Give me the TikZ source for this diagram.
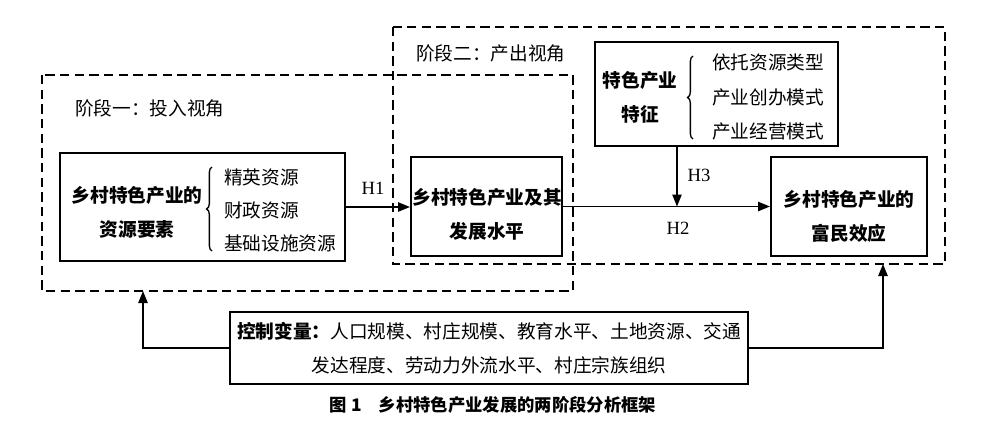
\documentclass[tikz,border=0pt]{standalone}
\usepackage{fontspec}
\setmainfont{Liberation Serif}
\newfontfamily\cjk{Noto Sans CJK SC}
\usetikzlibrary{arrows.meta,decorations.pathreplacing}
\begin{document}
\begin{tikzpicture}
[x=0.75pt,y=-0.75pt,
  boxdecorate/.style={draw,line width=1.5pt,inner sep=0pt},%
  stagedecorate/.style={line width=1.4pt,dash pattern=on 7pt off 4pt},%
  titledecorate/.style={inner sep=0pt,align=center,
    font=\cjk\bfseries\fontsize{14pt}{25.5pt}\selectfont},%
  itemdecorate/.style={inner sep=0pt,anchor=west,
    font=\cjk\fontsize{14pt}{16pt}\selectfont},%
  bracedecorate/.style={decorate,decoration={brace,amplitude=4pt},line width=1pt},%
  linedecorate/.style={-{Triangle[length=9pt,width=7pt]},line width=1.1pt},%
  hlabel/.style={inner sep=0pt,font=\fontsize{14pt}{16pt}\selectfont}]
\useasboundingbox (0,0) rectangle (1000,447);
%% stages
\draw[stagedecorate] (42,75) rectangle (573,291);
\draw[stagedecorate] (393,27) rectangle (945,264);
\node[itemdecorate] (stageone) at (75,108) {阶段一：投入视角};
\node[itemdecorate] (stagetwo) at (416,53) {阶段二：产出视角};
%% boxes
\node[boxdecorate,minimum width=213.75pt,minimum height=81pt] (input) at (202.5,207) {};
\node[boxdecorate,minimum width=113.25pt,minimum height=74.25pt] (level) at (486.5,206.5) {};
\node[boxdecorate,minimum width=182.25pt,minimum height=78pt] (feature) at (716.5,94) {};
\node[boxdecorate,minimum width=117pt,minimum height=74.25pt] (effect) at (849,206.5) {};
\node[boxdecorate,minimum width=388.5pt,minimum height=54pt,align=center,
  font=\cjk\fontsize{14pt}{25.5pt}\selectfont] (control) at (489,348)
  {{\bfseries 控制变量：}人口规模、村庄规模、教育水平、土地资源、交通\\
   发达程度、劳动力外流水平、村庄宗族组织};
%% box titles
\foreach \nodename/\x/\y/\words in {inputtitle/137/212.5/乡村特色产业的\\资源要素,
  leveltitle/487/214/乡村特色产业及其\\发展水平,
  featuretitle/640/97.5/特色产业\\特征,
  effecttitle/849/216.5/乡村特色产业的\\富民效应} {
  \node[titledecorate] (\nodename) at (\x,\y) {\words};
}
%% braces and items
\draw[bracedecorate] (212,251) -- (212,167);
\draw[bracedecorate] (693,139) -- (693,56);
\foreach \nodename/\x/\y/\words in {elite/224/177/精英资源, fiscal/224/210/财政资源,
  infra/224/243/基础设施资源, rtype/712/62/依托资源类型,
  rfound/712/97/产业创办模式, rmanage/712/131/产业经营模式} {
  \node[itemdecorate] (\nodename) at (\x,\y) {\words};
}
%% connectors
\coordinate (meet) at (677,206.5);
\coordinate (leftfoot) at (143,291);
\coordinate (rightfoot) at (883,264);
\draw[linedecorate] (input.east) -- (input.east -| level.west);
\draw[linedecorate] (level.east) -- (effect.west);
\draw[linedecorate] (meet |- feature.south) -- (meet);
\draw[linedecorate] (control.west) -| (leftfoot);
\draw[linedecorate] (control.east) -| (rightfoot);
\node[hlabel] (hone) at (373,188) {H1};
\node[hlabel] (htwo) at (678,228) {H2};
\node[hlabel] (hthree) at (699,175) {H3};
%% caption
\node[inner sep=0pt,font=\cjk\bfseries\fontsize{13pt}{15pt}\selectfont] (caption)
  at (493,405) {图 1\quad 乡村特色产业发展的两阶段分析框架};
\end{tikzpicture}
\end{document}
